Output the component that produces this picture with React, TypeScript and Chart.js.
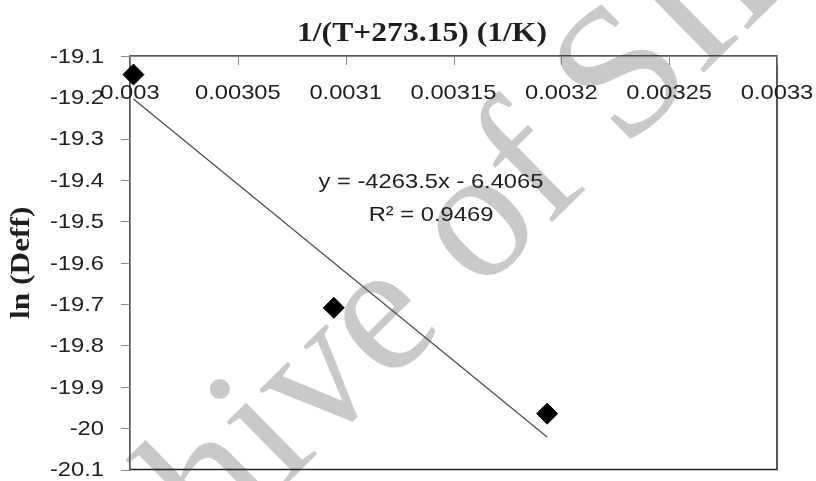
import React, { useEffect, useRef } from 'react';
import { Chart, registerables } from 'chart.js';

Chart.register(...registerables);

// 1/(T+273.15) for the three temperatures, and ln(Deff) measured at each
const invTemp = [0.0030016, 0.0030945, 0.0031934];
const lnDeff = [-19.145, -19.709, -19.965];

// linear trendline reported on the chart
const trendSlope = -4263.5;
const trendIntercept = -6.4065;
const trendR2 = '0.9469';

const xTickValues = [0.003, 0.00305, 0.0031, 0.00315, 0.0032, 0.00325, 0.0033];
const xTickLabels = ['0.003', '0.00305', '0.0031', '0.00315', '0.0032', '0.00325', '0.0033'];
const yTickValues = [-19.1, -19.2, -19.3, -19.4, -19.5, -19.6, -19.7, -19.8, -19.9, -20, -20.1];
const yTickLabels = ['-19.1', '-19.2', '-19.3', '-19.4', '-19.5', '-19.6', '-19.7', '-19.8', '-19.9', '-20', '-20.1'];

const xTitle = '1/(T+273.15) (1/K)';
const yTitle = 'ln (Deff)';
const watermark = 'Archive of SID';

const SANS = "'Liberation Sans', Arial, sans-serif";
const SERIF = "'Liberation Serif', 'Times New Roman', serif";
const STRETCH = 1.13;
const TEXT = '#1e1e1e';
const AXIS = '#868686';

function drawText(
  ctx: CanvasRenderingContext2D,
  text: string,
  x: number,
  y: number,
  font: string,
  align: CanvasTextAlign,
  baseline: CanvasTextBaseline,
  sx: number,
  rot = 0,
  color = TEXT
) {
  ctx.save();
  ctx.translate(x, y);
  if (rot) ctx.rotate(rot);
  ctx.scale(sx, 1);
  ctx.font = font;
  ctx.fillStyle = color;
  ctx.textAlign = align;
  ctx.textBaseline = baseline;
  ctx.fillText(text, 0, 0);
  ctx.restore();
}

const framePlugin = {
  id: 'frame',
  beforeDraw(chart: any) {
    const ctx: CanvasRenderingContext2D = chart.ctx;
    ctx.save();
    ctx.fillStyle = '#ffffff';
    ctx.fillRect(0, 0, chart.width, chart.height);
    // faint diagonal watermark behind the chart
    ctx.translate(15, 752);
    ctx.rotate((-44.6 * Math.PI) / 180);
    ctx.font = `188px ${SERIF}`;
    ctx.fillStyle = '#c9c9c9';
    ctx.textAlign = 'left';
    ctx.textBaseline = 'alphabetic';
    ctx.fillText(watermark, 0, 0);
    ctx.restore();
  },
  beforeDatasetsDraw(chart: any) {
    const ctx: CanvasRenderingContext2D = chart.ctx;
    const { left, right, top, bottom } = chart.chartArea;
    const xs = chart.scales.x;
    const ys = chart.scales.y;

    ctx.save();
    // plot area border
    ctx.strokeStyle = '#222222';
    ctx.lineWidth = 1.5;
    ctx.strokeRect(left, top, right - left, bottom - top);

    // value axis on the left, category axis along the top
    ctx.strokeStyle = AXIS;
    ctx.lineWidth = 1;
    ctx.beginPath();
    ctx.moveTo(left, top + 0.5);
    ctx.lineTo(right, top + 0.5);
    ctx.moveTo(left + 0.5, top);
    ctx.lineTo(left + 0.5, bottom);
    xTickValues.forEach((v) => {
      const px = Math.round(xs.getPixelForValue(v)) + 0.5;
      ctx.moveTo(px, top);
      ctx.lineTo(px, top + 9);
    });
    yTickValues.forEach((v) => {
      const py = Math.round(ys.getPixelForValue(v)) + 0.5;
      ctx.moveTo(left - 9, py);
      ctx.lineTo(left, py);
    });
    ctx.stroke();
    ctx.restore();

    const tickFont = `21px ${SANS}`;
    xTickValues.forEach((v, i) => {
      drawText(ctx, xTickLabels[i], xs.getPixelForValue(v), top + 43, tickFont, 'center', 'alphabetic', STRETCH);
    });
    yTickValues.forEach((v, i) => {
      drawText(ctx, yTickLabels[i], left - 26, ys.getPixelForValue(v) + 1, tickFont, 'right', 'middle', STRETCH);
    });

    // axis titles
    drawText(ctx, xTitle, 422, 41, `bold 28px ${SERIF}`, 'center', 'alphabetic', 1.13);
    drawText(ctx, yTitle, 22, (top + bottom) / 2, `bold 28px ${SERIF}`, 'center', 'middle', 1.12, -Math.PI / 2);

    // trendline equation
    drawText(ctx, `y = ${trendSlope}x - ${Math.abs(trendIntercept)}`, 431, 188, tickFont, 'center', 'alphabetic', STRETCH);
    drawText(ctx, `R\u00B2 = ${trendR2}`, 431, 221, tickFont, 'center', 'alphabetic', STRETCH);
  },
};

export default function App() {
  const canvasRef = useRef<HTMLCanvasElement | null>(null);

  useEffect(() => {
    const canvas = canvasRef.current;
    if (!canvas) return;

    const xMin = Math.min(...invTemp);
    const xMax = Math.max(...invTemp);
    const trend = [xMin, xMax].map((x) => ({ x, y: trendSlope * x + trendIntercept }));

    const chart = new Chart(canvas, {
      type: 'scatter',
      data: {
        datasets: [
          {
            label: 'trend',
            data: trend,
            showLine: true,
            borderColor: '#4a4a4a',
            borderWidth: 1.2,
            pointRadius: 0,
            clip: false as any,
            order: 2,
          },
          {
            label: 'ln (Deff)',
            data: invTemp.map((x, i) => ({ x, y: lnDeff[i] })),
            pointStyle: 'rectRot',
            pointRadius: 10.5,
            backgroundColor: '#000000',
            borderColor: '#000000',
            borderWidth: 1,
            clip: false as any,
            order: 1,
          },
        ],
      },
      options: {
        animation: false,
        responsive: false,
        devicePixelRatio: 1,
        layout: { padding: { left: 130, top: 56, right: 39, bottom: 9 } },
        plugins: { legend: { display: false }, tooltip: { enabled: false }, title: { display: false } },
        scales: {
          x: { type: 'linear', display: false, min: 0.003, max: 0.0033 },
          y: { type: 'linear', display: false, min: -20.1, max: -19.1 },
        },
      },
      plugins: [framePlugin],
    });

    return () => chart.destroy();
  }, []);

  return (
    <div style={{ position: 'fixed', left: 0, top: 0, width: 816, height: 481, background: '#fff' }}>
      <canvas ref={canvasRef} width={816} height={481} style={{ display: 'block', width: 816, height: 481 }} />
    </div>
  );
}
